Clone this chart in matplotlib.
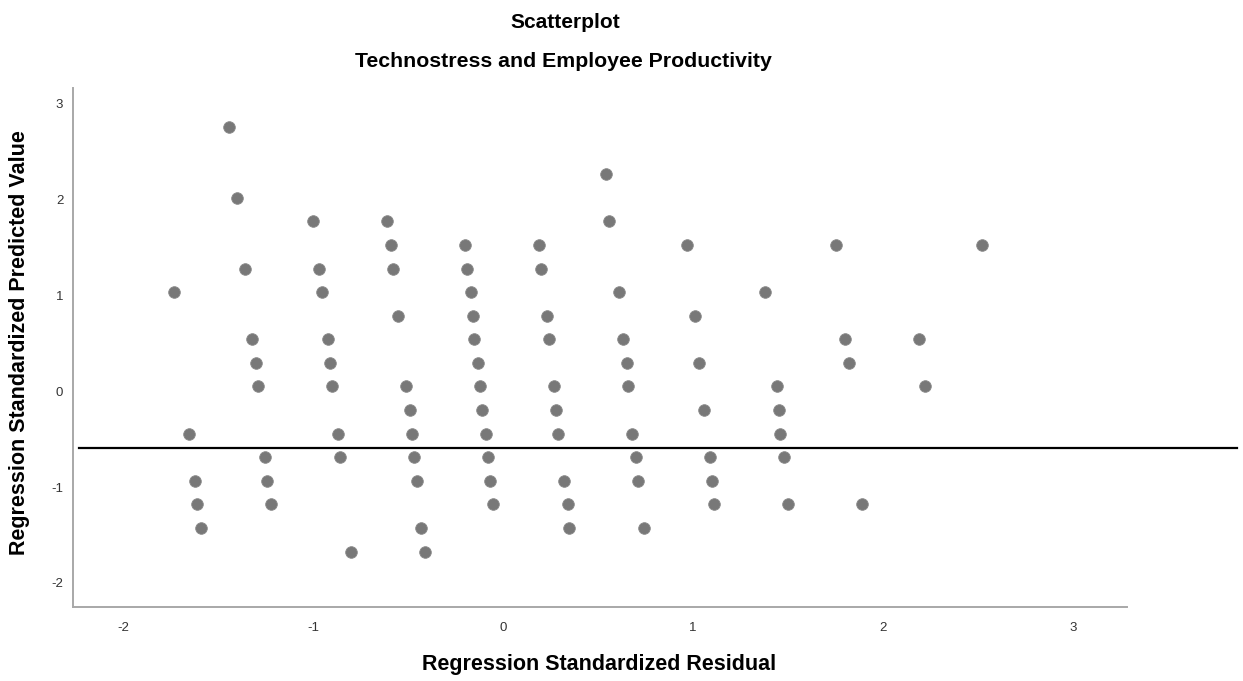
import matplotlib
matplotlib.use('Agg')
import matplotlib.pyplot as plt
import numpy as np

plt.rcParams['font.family'] = ['Liberation Sans', 'DejaVu Sans']
plt.rcParams['axes.unicode_minus'] = False

# Regression standardized residual (x) and predicted value (y)
residual = [
    -1.73,
    -1.65, -1.62, -1.61, -1.59,
    -1.44, -1.40, -1.36, -1.32, -1.30, -1.29, -1.25, -1.24, -1.22,
    -1.00, -0.97, -0.95, -0.92, -0.91, -0.90, -0.87, -0.86, -0.80,
    -0.61, -0.59, -0.58, -0.55, -0.51, -0.49, -0.48, -0.47, -0.45, -0.43, -0.41,
    -0.20, -0.19, -0.17, -0.16, -0.15, -0.13, -0.12, -0.11, -0.09, -0.08, -0.07, -0.05,
    0.19, 0.20, 0.23, 0.24, 0.27, 0.28, 0.29, 0.32, 0.34, 0.35,
    0.54, 0.56, 0.61, 0.63, 0.65, 0.66, 0.68, 0.70, 0.71, 0.74,
    0.97, 1.01, 1.03, 1.06, 1.09, 1.10, 1.11,
    1.38, 1.44, 1.45, 1.46, 1.48, 1.50,
    1.75, 1.80, 1.82, 1.89,
    2.19, 2.22,
    2.52,
]
predicted = [
    1.03,
    -0.45, -0.94, -1.18, -1.43,
    2.75, 2.01, 1.27, 0.54, 0.29, 0.05, -0.69, -0.94, -1.18,
    1.77, 1.27, 1.03, 0.54, 0.29, 0.05, -0.45, -0.69, -1.68,
    1.77, 1.52, 1.27, 0.78, 0.05, -0.20, -0.45, -0.69, -0.94, -1.43, -1.68,
    1.52, 1.27, 1.03, 0.78, 0.54, 0.29, 0.05, -0.20, -0.45, -0.69, -0.94, -1.18,
    1.52, 1.27, 0.78, 0.54, 0.05, -0.20, -0.45, -0.94, -1.18, -1.43,
    2.26, 1.77, 1.03, 0.54, 0.29, 0.05, -0.45, -0.69, -0.94, -1.43,
    1.52, 0.78, 0.29, -0.20, -0.69, -0.94, -1.18,
    1.03, 0.05, -0.20, -0.45, -0.69, -1.18,
    1.52, 0.54, 0.29, -1.18,
    0.54, 0.05,
    1.52,
]
ref_line = -0.59
xticks = [-2, -1, 0, 1, 2, 3]
yticks = [-2, -1, 0, 1, 2, 3]

fig = plt.figure(figsize=(12.43, 6.81), dpi=100)
fig.patch.set_facecolor('white')
ax = fig.add_axes([0.0587, 0.1087, 0.848, 0.762])

ax.scatter(residual, predicted, s=70, color='#787878', edgecolors='#8a8a8a',
           linewidths=0.6, zorder=3)

ax.axhline(ref_line, xmin=0.006, xmax=1.104, color='black', linewidth=1.6,
           clip_on=False, zorder=4)

ax.set_xlim(-2.263, 3.284)
ax.set_ylim(-2.25, 3.16)
ax.set_xticks(xticks)
ax.set_yticks(yticks)
ax.tick_params(length=0, labelsize=9.5, colors='#333333')
ax.tick_params(axis='x', pad=11)
ax.tick_params(axis='y', pad=7)

for side in ['top', 'right']:
    ax.spines[side].set_visible(False)
for side in ['left', 'bottom']:
    ax.spines[side].set_color('#a8a8a8')
    ax.spines[side].set_linewidth(1.4)

ax.set_xlabel('Regression Standardized Residual', fontsize=15.5,
              fontweight='bold')
ax.set_ylabel('Regression Standardized Predicted Value', fontsize=15.5,
              fontweight='bold')
ax.xaxis.set_label_coords(0.499, -0.11)
ax.yaxis.set_label_coords(-0.0503, 0.509)
ax.xaxis.label.set_va('center')
ax.yaxis.label.set_va('center')

fig.text(0.4545, 0.967, 'Scatterplot', ha='center', va='center',
         fontsize=15, fontweight='bold')
fig.text(0.4535, 0.909, 'Technostress and Employee Productivity', ha='center',
         va='center', fontsize=15.3, fontweight='bold')

plt.savefig('out.png', dpi=100, facecolor='white')
plt.close()
